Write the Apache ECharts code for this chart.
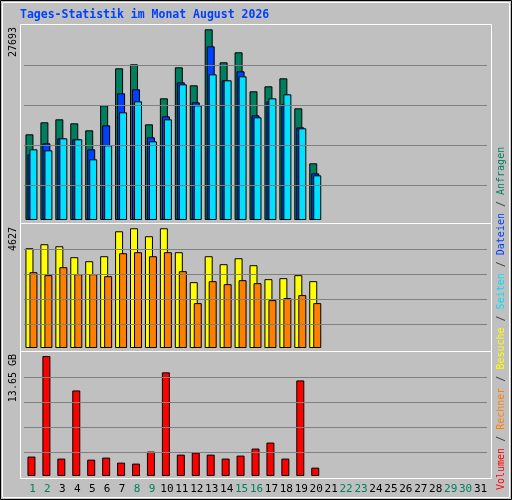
<!DOCTYPE html>
<html><head><meta charset="utf-8">
<script src="https://cdn.jsdelivr.net/npm/echarts@6/dist/echarts.min.js"></script>
<style>html,body{margin:0;padding:0;background:#c0c0c0}#c{width:512px;height:500px}</style>
</head><body><div id="c"></div>
<script>
const days = Array.from({length:31},(_,i)=>String(i+1));
const weekendDays = ['1','2','8','9','15','16','22','23','29','30'];
const hits  = [12442,14185,14620,14039,13023,16654,22027,22608,13894,17670,22172,19558,27693,22899,24351,18687,19413,20575,16218,8230];
const files = [9537,11134,11861,11715,10263,13749,18396,18977,12006,15056,19994,17089,25222,20284,21591,15201,17234,16799,13458,6777];
const pages = [10263,10118,11861,11715,8811,10844,15637,17234,11425,14620,19703,16654,21155,20284,20865,14910,17670,18251,13313,6487];
const visits = [3856,4010,3933,3509,3355,3547,4511,4627,4319,4627,3702,2545,3547,3239,3470,3200,2661,2699,2815,2583];
const sites  = [2930,2815,3123,2853,2853,2776,3663,3702,3547,3702,2969,1735,2583,2468,2622,2506,1851,1928,2044,1735];
const volumeGB = [2.21,13.65,1.98,9.73,1.86,2.09,1.52,1.41,2.78,11.79,2.43,2.66,2.43,1.98,2.32,3.12,3.80,1.98,10.87,0.95];
const grid1Lines = [5035,10844,16654,22464];
const grid2Lines = [925,1889,2853,3817];
const grid3Lines = [2.66,5.51,8.36,11.22];

const FONT = 'DejaVu Sans Mono';
const chart = echarts.init(document.getElementById('c'));
const grids = [
  {left:24,width:463,top:25,height:195},
  {left:24,width:463,top:225,height:123},
  {left:24,width:463,top:353,height:123}
];
function xa(i,show){return {type:'category',data:days,gridIndex:i,axisLine:{show:false},axisTick:{show:false},
  axisLabel:{show:show,interval:0,fontFamily:FONT,fontSize:11,margin:8,padding:[0,0,0,2],
    color:(v)=>weekendDays.includes(v)?'#00805f':'#000'}};}
function ya(i,max){return {type:'value',gridIndex:i,min:0,max:max,axisLine:{show:false},axisTick:{show:false},axisLabel:{show:false},splitLine:{show:false}};}
function lines(vals){return {silent:true,symbol:'none',label:{show:false},lineStyle:{color:'#808080',type:'solid',width:1},data:vals.map(v=>({yAxis:v}))};}
const bs = {borderColor:'#000',borderWidth:1};
function bar(name,data,color,xi,extra){return Object.assign({type:'bar',name,data,xAxisIndex:xi,yAxisIndex:xi,barWidth:8,itemStyle:Object.assign({color},bs),animation:false},extra||{});}

const legendParts = [['Volumen','#ff0000'],[' / ','#404040'],['Rechner','#ff8000'],[' / ','#404040'],['Besuche','#ffff00'],[' / ','#404040'],['Seiten','#00e0ff'],[' / ','#404040'],['Dateien','#0040ff'],[' / ','#404040'],['Anfragen','#00805f']];
const rich = {}; let txt='';
legendParts.forEach((p,i)=>{rich['r'+i]={fill:p[1],font:'10px '+FONT}; txt+='{r'+i+'|'+p[0]+'}';});

function vlabel(text,y){return {type:'text',x:13,y:y,rotation:Math.PI/2,style:{text,fill:'#000',font:'10px '+FONT,align:'right',verticalAlign:'middle'}};}

chart.setOption({
  backgroundColor:'#c0c0c0',
  animation:false,
  grid:grids,
  xAxis:[xa(0,false),xa(1,false),xa(2,true)],
  yAxis:[ya(0,28317),ya(1,4754),ya(2,13.99)],
  graphic:[
    {type:'rect',shape:{x:0.5,y:0.5,width:511,height:499},style:{fill:'#c0c0c0',stroke:'#000',lineWidth:1},z:-10},
    {type:'rect',shape:{x:2.5,y:2.5,width:507,height:495},style:{fill:'none',stroke:'#ffffff',lineWidth:1},z:-9},
    {type:'rect',shape:{x:20.5,y:24.5,width:471,height:199},style:{fill:'#c0c0c0',stroke:'#ffffff',lineWidth:1},z:-8},
    {type:'rect',shape:{x:20.5,y:223.5,width:471,height:128},style:{fill:'#c0c0c0',stroke:'#ffffff',lineWidth:1},z:-8},
    {type:'rect',shape:{x:20.5,y:351.5,width:471,height:127},style:{fill:'#c0c0c0',stroke:'#ffffff',lineWidth:1},z:-8},
    {type:'text',x:20,y:15,style:{text:'Tages-Statistik im Monat August 2026',fill:'#0040ff',font:'bold 11.5px '+FONT,verticalAlign:'middle'}},
    vlabel('27693',27), vlabel('4627',227), vlabel('13.65 GB',354),
    {type:'text',x:501,y:490,rotation:Math.PI/2,style:{text:txt,rich:rich,font:'10px '+FONT,align:'left',verticalAlign:'middle'}}
  ],
  series:[
    bar('Anfragen',hits,'#007f5f',0,{barGap:'-75%',markLine:lines(grid1Lines)}),
    bar('Dateien',files,'#0040ff',0,{barGap:'-75%'}),
    bar('Seiten',pages,'#00e0ff',0,{barGap:'-75%'}),
    bar('Besuche',visits,'#ffff00',1,{barGap:'-50%',markLine:lines(grid2Lines)}),
    bar('Rechner',sites,'#ff8000',1,{barGap:'-50%'}),
    bar('Volumen',volumeGB,'#ff0000',2,{markLine:lines(grid3Lines)})
  ]
});
</script></body></html>
